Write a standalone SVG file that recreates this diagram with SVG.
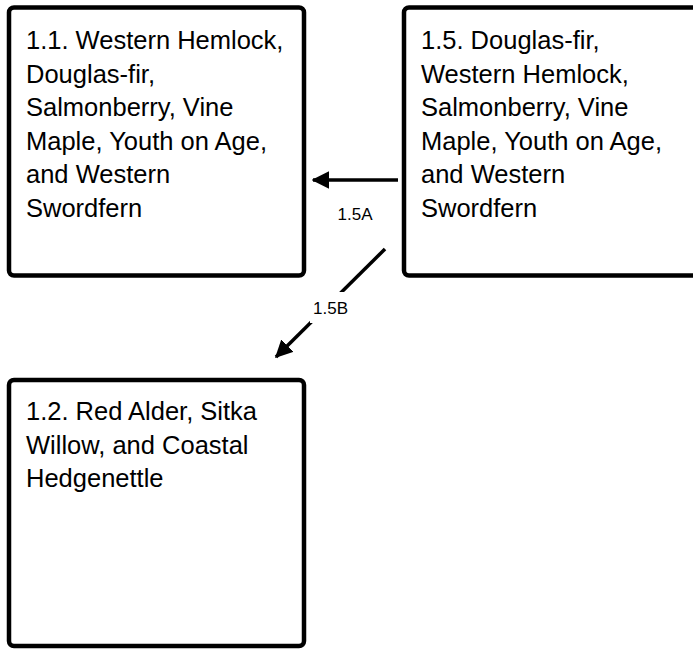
<svg xmlns="http://www.w3.org/2000/svg" width="693" height="649" viewBox="0 0 693 649">
<defs>
<style>
.box{fill:#fff;stroke:#000;stroke-width:4.5}
.t{font-family:"Liberation Sans",Arial,Helvetica,sans-serif;font-size:25.5px;fill:#000}
.lbl{font-family:"Liberation Sans",Arial,Helvetica,sans-serif;font-size:17px;fill:#000;text-anchor:middle}
.edge{stroke:#000;stroke-width:3.5;fill:none}
</style>
<marker id="ah" markerWidth="5" markerHeight="5" refX="4.6" refY="2.5" orient="auto" markerUnits="strokeWidth" viewBox="0 0 5 5">
<path d="M0,0 L5,2.5 L0,5 Z" fill="#000"/>
</marker>
</defs>
<rect width="693" height="649" fill="#fff"/>
<g id="connectors">
<line class="edge" x1="398" y1="180" x2="313" y2="180" marker-end="url(#ah)"/>
<line class="edge" x1="385" y1="249" x2="276" y2="357" marker-end="url(#ah)"/>
<g id="label-1.5A">
<text class="lbl" x="355" y="220">1.5A</text>
</g>
<g id="label-1.5B">
<rect x="310" y="292" width="42" height="31" fill="#fff"/>
<text class="lbl" x="330.5" y="314">1.5B</text>
</g>
</g>
<g id="node-1.1">
<rect class="box" x="9" y="7.5" width="295" height="268" rx="5"/>
<text class="t"><tspan x="26" y="49">1.1. Western Hemlock,</tspan><tspan x="26" y="82.5">Douglas-fir,</tspan><tspan x="26" y="116">Salmonberry, Vine</tspan><tspan x="26" y="149.5">Maple, Youth on Age,</tspan><tspan x="26" y="183">and Western</tspan><tspan x="26" y="216.5">Swordfern</tspan></text>
</g>
<g id="node-1.5">
<rect class="box" x="404" y="7.5" width="295" height="268" rx="5"/>
<text class="t"><tspan x="421" y="49">1.5. Douglas-fir,</tspan><tspan x="421" y="82.5">Western Hemlock,</tspan><tspan x="421" y="116">Salmonberry, Vine</tspan><tspan x="421" y="149.5">Maple, Youth on Age,</tspan><tspan x="421" y="183">and Western</tspan><tspan x="421" y="216.5">Swordfern</tspan></text>
</g>
<g id="node-1.2">
<rect class="box" x="9" y="380" width="295" height="266" rx="5"/>
<text class="t"><tspan x="26" y="420">1.2. Red Alder, Sitka</tspan><tspan x="26" y="453.5">Willow, and Coastal</tspan><tspan x="26" y="487">Hedgenettle</tspan></text>
</g>
</svg>
